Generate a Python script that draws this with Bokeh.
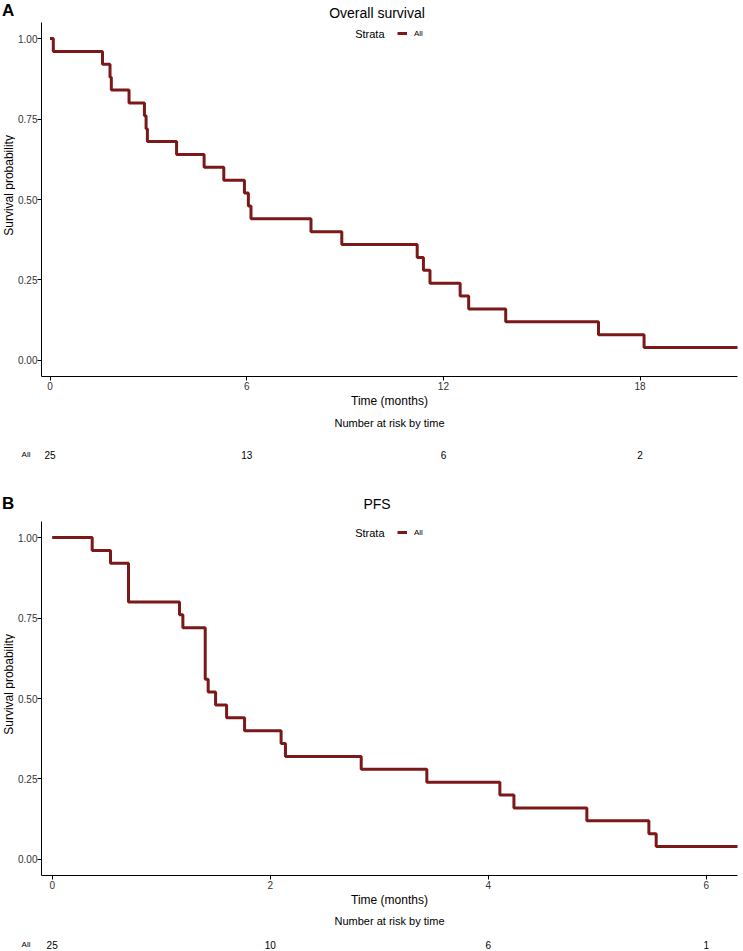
import math
from bokeh.plotting import figure
from bokeh.models import (FixedTicker, Legend, LegendItem, Range1d,
                          PrintfTickFormatter)
from bokeh.layouts import column, row
from bokeh.embed import file_html
from bokeh.resources import INLINE
from bokeh.core.properties import value

FONT = "Liberation Sans"
RED = "#7B1818"

# ---------------- data ----------------
# Overall survival: event times (months) and survival after each step
os_times = [0.10, 1.60, 1.83, 1.87, 2.41, 2.88, 2.93, 2.97, 3.86, 4.70,
            5.30, 5.93, 6.05, 6.13, 7.96, 8.90, 11.20, 11.39, 11.59, 12.51,
            12.77, 13.90, 16.73, 18.12]
os_surv = [0.96, 0.92, 0.88, 0.84, 0.80, 0.76, 0.72, 0.68, 0.64, 0.60,
           0.56, 0.52, 0.48, 0.44, 0.40, 0.36, 0.32, 0.28, 0.24, 0.20,
           0.16, 0.12, 0.08, 0.04]
os_last = 21.0
os_xticks = [0, 6, 12, 18]
os_risk_times = [0, 6, 12, 18]
os_risk_counts = [25, 13, 6, 2]

# Progression-free survival
pfs_times = [0.367, 0.535, 0.70, 1.168, 1.199, 1.404, 1.431, 1.499, 1.60,
             1.765, 2.10, 2.14, 2.835, 3.437, 4.107, 4.236, 4.905, 5.474,
             5.541]
pfs_surv = [0.96, 0.92, 0.80, 0.76, 0.72, 0.56, 0.52, 0.48, 0.44, 0.40,
            0.36, 0.32, 0.28, 0.24, 0.20, 0.16, 0.12, 0.08, 0.04]
pfs_last = 6.35
pfs_xticks = [0, 2, 4, 6]
pfs_risk_times = [0, 2, 4, 6]
pfs_risk_counts = [25, 10, 6, 1]

y_ticks = [0.0, 0.25, 0.5, 0.75, 1.0]
strata = "All"
strata_title = "Strata"
risk_title = "Number at risk by time"
x_label = "Time (months)"
y_label = "Survival probability"

# ---------------- layout constants (pixels) ----------------
W = 743
LW = 15         # strip holding the y-axis title
L = 41          # total left border up to the frame
R = 6           # right border
FW = W - L - R  # frame width
TOP = 2
FH = 355        # frame height of the survival panels
BOT = 33        # bottom border (x axis)
PH = TOP + FH + BOT


def km_xy(times, surv, last):
    xs = [0.0] + list(times) + [last]
    ys = [1.0] + list(surv) + [surv[-1]]
    return xs, ys


def blank(width, height):
    p = figure(width=width, height=height, x_range=Range1d(0, width),
               y_range=Range1d(height, 0), title=None, output_backend="svg",
               toolbar_location=None, x_axis_location=None,
               y_axis_location=None, min_border_left=0, min_border_right=0,
               min_border_top=0, min_border_bottom=0)
    p.outline_line_color = None
    p.xgrid.grid_line_color = None
    p.ygrid.grid_line_color = None
    return p


def header(h, tag, title, tag_y, title_y):
    """Strip holding the panel tag and the panel title."""
    p = blank(W, h)
    p.text(x=[1.5], y=[tag_y], text=[tag], text_align="left",
           text_baseline="middle", text_font=value(FONT),
           text_font_size="17px", text_font_style="bold", text_color="black")
    p.text(x=[376.5], y=[title_y], text=[title], text_align="center",
           text_baseline="middle", text_font=value(FONT),
           text_font_size="14px", text_color="black")
    return row(p, spacing=0)


def ylabel_strip():
    p = blank(LW, PH)
    p.text(x=[8], y=[TOP + FH / 2.0], text=[y_label], angle=math.pi / 2,
           text_align="center", text_baseline="middle",
           text_font=value(FONT), text_font_size="12px", text_color="black")
    return p


def main_plot(times, surv, last, xr, xticks):
    p = figure(width=W - LW, height=PH,
               x_range=Range1d(*xr), y_range=Range1d(-0.05, 1.05),
               title=None, output_backend="svg", toolbar_location=None,
               min_border_left=L - LW, min_border_right=R,
               min_border_top=TOP, min_border_bottom=BOT)
    p.outline_line_color = None
    p.xgrid.grid_line_color = None
    p.ygrid.grid_line_color = None

    xs, ys = km_xy(times, surv, last)
    r = p.step(xs, ys, mode="after", line_color=RED, line_width=3)

    for ax in (p.xaxis[0], p.yaxis[0]):
        ax.axis_line_color = "black"
        ax.axis_line_width = 1
        ax.major_tick_line_color = "black"
        ax.major_tick_out = 4
        ax.major_tick_in = 0
        ax.minor_tick_line_color = None
        ax.major_label_text_font = FONT
        ax.major_label_text_font_size = "10px"
        ax.major_label_text_color = "#333333"
        ax.axis_label_text_font = FONT
        ax.axis_label_text_font_size = "12px"
        ax.axis_label_text_font_style = "normal"
        ax.axis_label_text_color = "black"
    p.xaxis[0].major_label_standoff = 1
    p.xaxis[0].axis_label_standoff = 1
    p.yaxis[0].major_label_standoff = 0
    p.xaxis[0].ticker = FixedTicker(ticks=xticks)
    p.xaxis[0].axis_label = x_label
    p.yaxis[0].ticker = FixedTicker(ticks=y_ticks)
    p.yaxis[0].formatter = PrintfTickFormatter(format="%.2f")

    # legend: line sample + "All", with the "Strata" heading to its left
    leg = Legend(items=[LegendItem(label=strata, renderers=[r])],
                 location=(356, FH - 18), orientation="horizontal")
    leg.background_fill_alpha = 0
    leg.border_line_color = None
    leg.label_text_font = FONT
    leg.label_text_font_size = "8px"
    leg.label_text_color = "black"
    leg.glyph_width = 10
    leg.glyph_height = 12
    leg.margin = 0
    leg.padding = 0
    leg.label_standoff = 7
    p.add_layout(leg)

    sx = xr[0] + 343.0 / FW * (xr[1] - xr[0])
    sy = 1.05 - 12.0 / FH * 1.10
    p.text(x=[sx], y=[sy], text=[strata_title], text_align="right",
           text_baseline="middle", text_font=value(FONT),
           text_font_size="11px", text_color="black")
    return p


def risk_plot(p, rtimes, rcounts, h, title_y, row_y):
    rp = figure(width=W, height=h, x_range=p.x_range, y_range=Range1d(h, 0),
                title=None, output_backend="svg", toolbar_location=None,
                x_axis_location=None,
                min_border_left=L, min_border_right=R,
                min_border_top=0, min_border_bottom=0)
    rp.outline_line_color = None
    rp.xgrid.grid_line_color = None
    rp.ygrid.grid_line_color = None
    xr = p.x_range
    rp.text(x=[(xr.start + xr.end) / 2.0], y=[title_y], text=[risk_title],
            text_align="center", text_baseline="middle",
            text_font=value(FONT), text_font_size="11px", text_color="black")
    rp.text(x=rtimes, y=[row_y] * len(rtimes), text=[str(c) for c in rcounts],
            text_align="center", text_baseline="middle",
            text_font=value(FONT), text_font_size="10px", text_color="black")
    ax = rp.yaxis[0]
    ax.ticker = FixedTicker(ticks=[row_y])
    ax.major_label_overrides = {row_y: strata}
    ax.axis_line_color = None
    ax.major_tick_line_color = None
    ax.minor_tick_line_color = None
    ax.major_label_text_font = FONT
    ax.major_label_text_font_size = "8px"
    ax.major_label_text_color = "black"
    ax.major_label_standoff = 5
    return row(rp, spacing=0)


hA = header(20, "A", "Overall survival", 10, 12)
pA = main_plot(os_times, os_surv, os_last, (-0.26, 20.97), os_xticks)
rA = risk_plot(pA, os_risk_times, os_risk_counts, 60, 12, 44)

hB = header(49, "B", "PFS", 33, 33)
pB = main_plot(pfs_times, pfs_surv, pfs_last, (-0.098, 6.287), pfs_xticks)
rB = risk_plot(pB, pfs_risk_times, pfs_risk_counts, 41, 11, 35)

layout = column(hA, row(ylabel_strip(), pA, spacing=0), rA,
                hB, row(ylabel_strip(), pB, spacing=0), rB, spacing=0)
open("out.html", "w").write(file_html(layout, INLINE))
